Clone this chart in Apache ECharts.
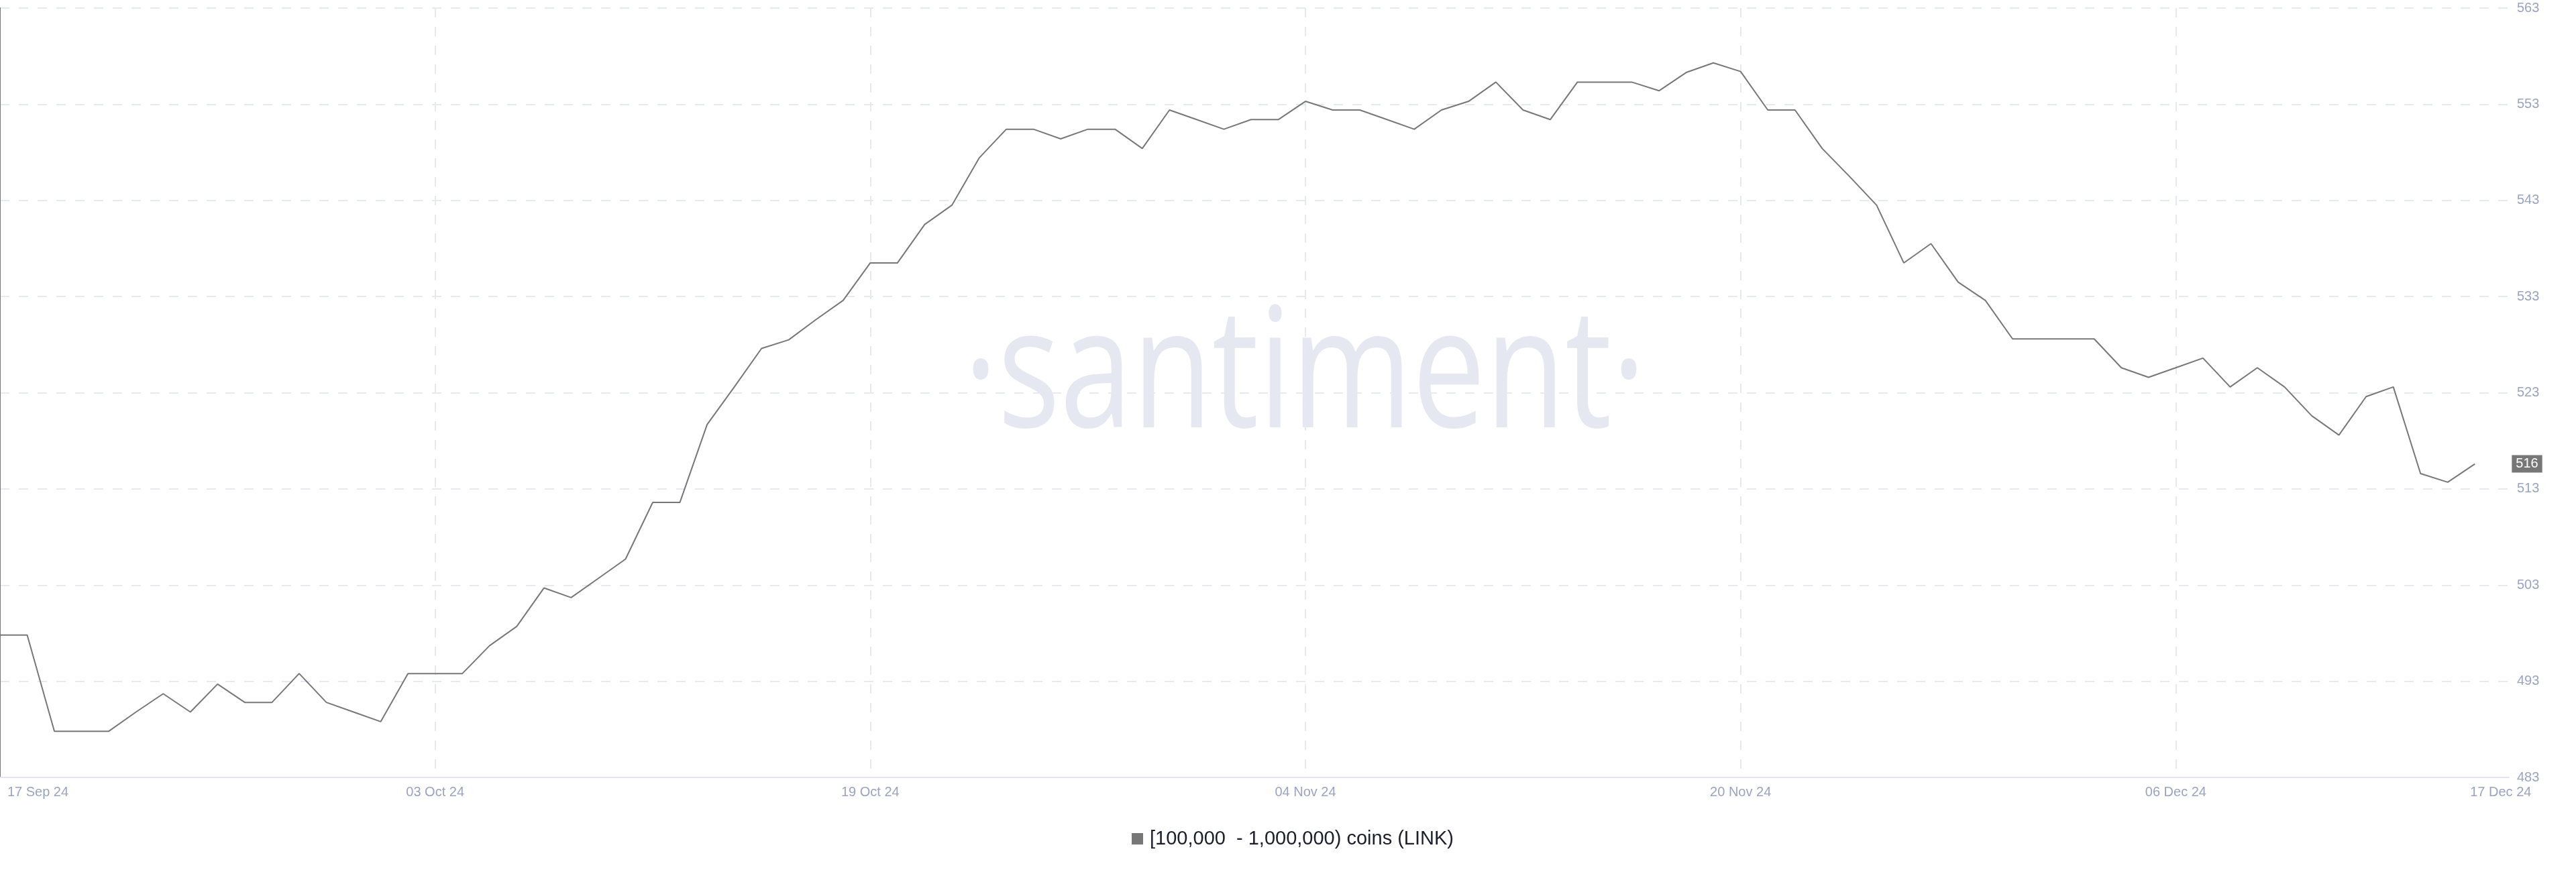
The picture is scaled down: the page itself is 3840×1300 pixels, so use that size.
<!DOCTYPE html>
<html>
<head>
<meta charset="utf-8">
<script src="https://cdn.jsdelivr.net/npm/echarts@6/dist/echarts.min.js"></script>
<style>
html,body{margin:0;padding:0;background:#fff;}
#chart{width:3840px;height:1300px;}
</style>
</head>
<body>
<div id="chart"></div>
<script>
// Day index 0 = 17 Sep 24, one point per day up to 17 Dec 24 (index 91)
const seriesName = '[100,000  - 1,000,000) coins (LINK)';
const tickDays = [0, 16, 32, 48, 64, 80, 91];
const tickLabels = ['17 Sep 24', '03 Oct 24', '19 Oct 24', '04 Nov 24', '20 Nov 24', '06 Dec 24', '17 Dec 24'];
const gridDays = [0, 16, 32, 48, 64, 80];
const yTicks = [483, 493, 503, 513, 523, 533, 543, 553, 563];
const holders = [
  497.8, 497.8, 487.8, 487.8, 487.8, 489.8, 491.7, 489.8, 492.7, 490.8,
  490.8, 493.8, 490.8, 489.8, 488.8, 493.8, 493.8, 493.8, 496.7, 498.7,
  502.7, 501.7, 503.7, 505.7, 511.6, 511.6, 519.7, 523.6, 527.6, 528.5,
  530.6, 532.6, 536.5, 536.5, 540.5, 542.5, 547.4, 550.4, 550.4, 549.4,
  550.4, 550.4, 548.4, 552.4, 551.4, 550.4, 551.4, 551.4, 553.3, 552.4,
  552.4, 551.4, 550.4, 552.4, 553.3, 555.3, 552.4, 551.4, 555.3, 555.3,
  555.3, 554.4, 556.3, 557.3, 556.4, 552.4, 552.4, 548.4, 545.5, 542.5,
  536.5, 538.5, 534.5, 532.6, 528.6, 528.6, 528.6, 528.6, 525.6, 524.6,
  525.6, 526.6, 523.6, 525.6, 523.6, 520.6, 518.6, 522.6, 523.6, 514.6,
  513.7, 515.6
];

const seriesData = holders.map((v, i) => [i, v]);
const labelFont = "'Liberation Sans', Arial, sans-serif";
const labelColor = '#9aa4c1';

const chart = echarts.init(document.getElementById('chart'), null, {renderer: 'canvas'});
chart.setOption({
  animation: false,
  backgroundColor: '#ffffff',
  graphic: [{
    type: 'text',
    x: 1945,
    y: 566,
    scaleX: 0.78,
    z: -10,
    silent: true,
    style: {
      text: '\u00B7santiment\u00B7',
      fontFamily: "'Open Sans', 'Noto Sans', sans-serif",
      fontSize: 249,
      fill: '#e6e8f1',
      textAlign: 'center',
      textVerticalAlign: 'middle'
    }
  }],
  legend: {
    left: 1682,
    top: 1231,
    itemWidth: 17,
    itemHeight: 17,
    icon: 'rect',
    textStyle: {
      fontSize: 29,
      color: '#1d1d2c',
      fontFamily: labelFont,
      padding: [0, 0, 0, 5]
    },
    data: [seriesName]
  },
  grid: {left: 0, right: 100, top: 12, bottom: 141, containLabel: false},
  xAxis: {
    type: 'value',
    min: 0,
    max: 92.25,
    axisLine: {show: true, lineStyle: {color: '#e3e6f2', width: 2}},
    axisTick: {show: false, customValues: gridDays},
    splitLine: {show: true, lineStyle: {color: '#e6e8f2', width: 2, type: [14, 14]}},
    axisLabel: {
      customValues: tickDays,
      margin: 12,
      fontSize: 20,
      fontFamily: labelFont,
      color: labelColor,
      formatter: function (val) {
        const k = tickDays.indexOf(val);
        if (k < 0) return '';
        if (k === 0) return '{first|' + tickLabels[k] + '}';
        if (k === tickDays.length - 1) return '{last|' + tickLabels[k] + '}';
        return tickLabels[k];
      },
      rich: {
        first: {padding: [0, 0, 0, 113], fontSize: 20, fontFamily: labelFont, color: labelColor},
        last: {padding: [0, 0, 0, 77], fontSize: 20, fontFamily: labelFont, color: labelColor}
      }
    }
  },
  yAxis: {
    type: 'value',
    position: 'right',
    min: 483,
    max: 563,
    axisLine: {show: true, lineStyle: {color: '#777777', width: 2}},
    axisTick: {show: false, customValues: yTicks},
    splitLine: {show: true, lineStyle: {color: '#e6e8f2', width: 2, type: [14, 14]}},
    axisLabel: {
      customValues: yTicks,
      margin: 12,
      fontSize: 20,
      fontFamily: labelFont,
      color: labelColor
    }
  },
  series: [{
    name: seriesName,
    type: 'line',
    data: seriesData,
    showSymbol: false,
    symbol: 'none',
    z: 5,
    itemStyle: {color: '#777777'},
    lineStyle: {color: '#777777', width: 2},
    endLabel: {
      show: true,
      distance: 55,
      formatter: function (p) { return String(Math.round(p.value[1])); },
      backgroundColor: '#777777',
      color: '#ffffff',
      fontSize: 20,
      fontFamily: labelFont,
      padding: [3, 6, 3, 6]
    }
  }]
});
</script>
</body>
</html>
